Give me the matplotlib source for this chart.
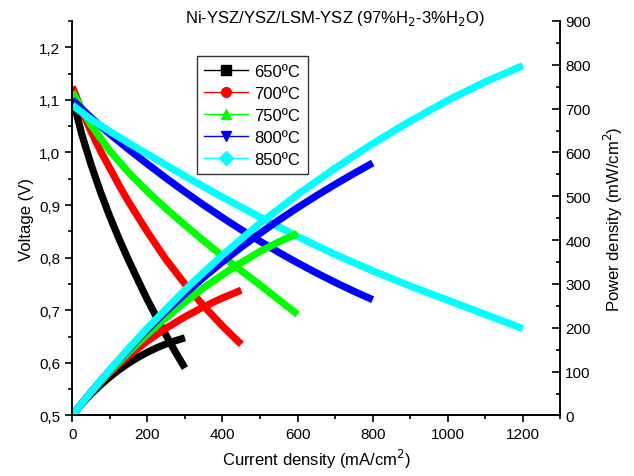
import matplotlib
matplotlib.use('Agg')
import matplotlib.pyplot as plt
import numpy as np
from matplotlib.lines import Line2D
from matplotlib.ticker import MultipleLocator, FuncFormatter

plt.rcParams['font.family'] = ['Liberation Sans', 'DejaVu Sans']

# current density (mA/cm2) and voltage (V)
i_650 = [0, 10, 25, 50, 75, 100, 125, 150, 175, 200, 225, 250, 275, 300]
v_650 = [1.12, 1.078, 1.035, 0.977, 0.925, 0.878, 0.835, 0.795, 0.757, 0.72, 0.686, 0.652, 0.62, 0.59]

i_700 = [0, 25, 50, 75, 100, 125, 150, 200, 250, 300, 350, 400, 450]
v_700 = [1.125, 1.08, 1.04, 1.003, 0.97, 0.937, 0.906, 0.849, 0.796, 0.75, 0.708, 0.67, 0.635]

i_750 = [0, 50, 100, 150, 200, 250, 300, 350, 400, 450, 500, 550, 600]
v_750 = [1.115, 1.052, 1.003, 0.962, 0.926, 0.893, 0.862, 0.832, 0.803, 0.775, 0.748, 0.72, 0.692]

i_800 = [0, 50, 100, 150, 200, 250, 300, 350, 400, 450, 500, 550, 600, 650, 700, 750, 800]
v_800 = [1.10, 1.066, 1.035, 1.006, 0.978, 0.951, 0.925, 0.9, 0.876, 0.853, 0.831, 0.81, 0.79, 0.771, 0.753, 0.736, 0.72]

i_850 = [0, 50, 100, 150, 200, 300, 400, 500, 600, 700, 800, 900, 1000, 1100, 1200]
v_850 = [1.09, 1.063, 1.04, 1.018, 0.997, 0.955, 0.915, 0.877, 0.84, 0.806, 0.775, 0.746, 0.719, 0.692, 0.665]

labels = ['650ºC', '700ºC', '750ºC', '800ºC', '850ºC']
colors = ['#000000', '#ff0000', '#00ff00', '#0000ff', '#00ffff']
markers = ['s', 'o', '^', 'v', 'D']

currents = [i_650, i_700, i_750, i_800, i_850]
voltages = [v_650, v_700, v_750, v_800, v_850]

fig = plt.figure(figsize=(6.34, 4.77), dpi=100)
ax = fig.add_axes([0.114, 0.127, 0.77, 0.827])
ax2 = ax.twinx()

for cur, volt, c in zip(currents, voltages, colors):
    cur = np.array(cur, dtype=float)
    volt = np.array(volt, dtype=float)
    ax.plot(cur, volt, color=c, lw=5.2, solid_capstyle='butt', solid_joinstyle='round')
    # power density = current x voltage
    ax2.plot(cur, cur * volt, color=c, lw=5.2, solid_capstyle='butt', solid_joinstyle='round')

ax.set_xlim(0, 1300)
ax.set_ylim(0.5, 1.25)
ax2.set_ylim(0, 900)

ax.xaxis.set_major_locator(MultipleLocator(200))
ax.xaxis.set_minor_locator(MultipleLocator(100))
ax.yaxis.set_major_locator(MultipleLocator(0.1))
ax.yaxis.set_minor_locator(MultipleLocator(0.05))
ax.yaxis.set_major_formatter(FuncFormatter(lambda v, p: ('%.1f' % v).replace('.', ',')))
ax2.yaxis.set_major_locator(MultipleLocator(100))
ax2.yaxis.set_minor_locator(MultipleLocator(50))

for a in (ax, ax2):
    a.spines['top'].set_visible(False)
    a.spines['left'].set_linewidth(1.2)
    a.spines['bottom'].set_linewidth(1.2)
    a.spines['right'].set_linewidth(1.2)

ax.tick_params(axis='both', which='major', direction='out', length=5, width=1.2, labelsize=11)
ax.tick_params(axis='both', which='minor', direction='out', length=3, width=1.2)
ax2.tick_params(axis='y', which='major', direction='in', length=6, width=1.2, labelsize=11)
ax2.tick_params(axis='y', which='minor', direction='in', length=3, width=1.2)

ax.set_xlabel('Current density (mA/cm$^2$)', fontsize=12)
ax.set_ylabel('Voltage (V)', fontsize=12)
ax2.set_ylabel('Power density (mW/cm$^2$)', fontsize=12, labelpad=8)

fig.text(0.528, 0.962, 'Ni-YSZ/YSZ/LSM-YSZ (97%H$_2$-3%H$_2$O)', ha='center', va='center', fontsize=12)

handles = [Line2D([], [], color=c, lw=1, marker=m, markersize=7) for c, m in zip(colors, markers)]
leg = ax.legend(handles, labels, loc='upper left', bbox_to_anchor=(0.255, 0.911), fontsize=12,
                frameon=True, fancybox=False, edgecolor='black', handlelength=2.6,
                borderpad=0.45, labelspacing=0.42, handletextpad=0.4, borderaxespad=0)
leg.get_frame().set_linewidth(1.0)

fig.savefig('out.png', dpi=100)
